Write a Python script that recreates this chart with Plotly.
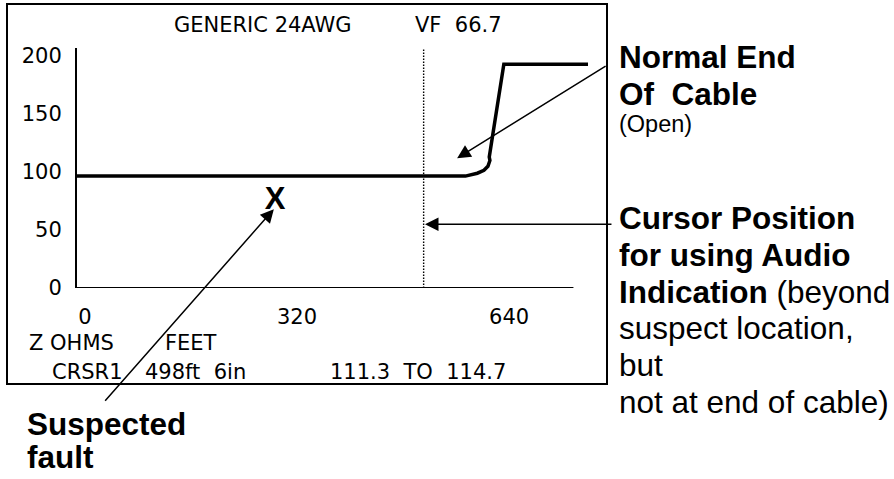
import plotly.graph_objects as go

# ---------------- data ----------------
trace_feet = [-12, 574, 592, 602, 608, 611, 610, 632, 759]
trace_ohms = [96.5, 96.5, 99, 101.5, 105, 110, 113, 193, 193]
cursor_feet = 511
fault_feet = [287]
fault_ohms = [75]
fault_mark = ["X"]
x_tick_vals = [0, 320, 640]
x_tick_text = ["0", "320", "640"]
y_tick_vals = [0, 50, 100, 150, 200]
y_tick_text = ["0", "50", "100", "150", "200"]
x_axis_end_feet = 737
x_range = [-12, 762]
y_range = [0, 207]

# ---------------- layout geometry (page pixels) ----------------
W, H = 894, 479
L, T, R, B = 77, 48, 590, 288
PW, PH = R - L, B - T


def pxx(px):
    return (px - L) / PW


def pxy(py):
    return (B - py) / PH


SCREEN_FONT = "DejaVu Sans"
NOTE_FONT = "Liberation Sans, Arial, sans-serif"
NB = "\u00a0"

fig = go.Figure()

# cursor dotted line
fig.add_trace(go.Scatter(
    x=[cursor_feet, cursor_feet], y=[y_range[0], y_range[1]],
    mode="lines", line=dict(color="black", width=1.4, dash="1.5px,1.5px"),
    hoverinfo="skip", showlegend=False))

# impedance trace
fig.add_trace(go.Scatter(
    x=trace_feet, y=trace_ohms, mode="lines",
    line=dict(color="black", width=3.5), showlegend=False))

# fault mark
fig.add_trace(go.Scatter(
    x=fault_feet, y=fault_ohms, mode="text", text=fault_mark,
    textposition="middle center",
    textfont=dict(family=NOTE_FONT, size=31, color="black", weight="bold"),
    showlegend=False))

shapes = [
    # x axis baseline
    dict(type="line", xref="x", yref="y", x0=x_range[0], x1=x_axis_end_feet,
         y0=0, y1=0, line=dict(color="black", width=2)),
    # screen frame
    dict(type="rect", xref="paper", yref="paper",
         x0=pxx(7), x1=pxx(607), y0=pxy(384), y1=pxy(4),
         line=dict(color="black", width=2)),
]

ann = []


def screen_text(txt, left, cy):
    ann.append(dict(text=txt, xref="paper", yref="paper", x=pxx(left), y=pxy(cy),
                    xanchor="left", yanchor="middle", showarrow=False,
                    font=dict(family=SCREEN_FONT, size=21, color="black")))


screen_text("GENERIC 24AWG", 172, 25)
screen_text("VF" + NB * 2 + "66.7", 413, 25)
screen_text("Z OHMS", 27, 343)
screen_text("FEET", 163, 343)
screen_text("CRSR1", 50, 372)
screen_text("498ft" + NB * 2 + "6in", 143, 372)
screen_text("111.3" + NB * 2 + "TO" + NB * 2 + "114.7", 328, 372)


def note(txt, left, cy, size=31.5):
    ann.append(dict(text=txt, xref="paper", yref="paper", x=pxx(left), y=pxy(cy),
                    xanchor="left", yanchor="middle", showarrow=False,
                    font=dict(family=NOTE_FONT, size=size, color="black")))


note("<b>Normal End</b>", 617, 57)
note("<b>Of  Cable</b>", 617, 94)
note("(Open)", 617, 124, size=23.5)
note("<b>Cursor Position</b>", 617, 218)
note("<b>for using Audio</b>", 617, 255)
note("<b>Indication</b> (beyond", 617, 292)
note("suspect location,", 617, 328)
note("but", 617, 365)
note("not at end of cable)", 617, 402)
note("<b>Suspected</b>", 25, 424)
note("<b>fault</b>", 25, 457)


def arrow(x, y, ax, ay):
    ann.append(dict(text="", x=x, y=y, xref="x", yref="y", ax=ax, ay=ay,
                    showarrow=True, arrowhead=2, arrowsize=1.8, arrowwidth=1.5,
                    arrowcolor="black", standoff=0))


arrow(285, 68, -170, 193)
arrow(561.5, 112, 150, -93)
arrow(cursor_feet + 2, 55, 188, 0)

fig.update_layout(
    width=W, height=H, autosize=False,
    margin=dict(l=L, r=W - R, t=T, b=H - B, pad=0),
    paper_bgcolor="white", plot_bgcolor="white",
    showlegend=False, shapes=shapes, annotations=ann,
    xaxis=dict(range=x_range, tickvals=x_tick_vals, ticktext=x_tick_text,
               showgrid=False, zeroline=False, showline=False, ticks="",
               ticklabelstandoff=14,
               tickfont=dict(family=SCREEN_FONT, size=21, color="black"),
               fixedrange=True),
    yaxis=dict(range=y_range, tickvals=y_tick_vals, ticktext=y_tick_text,
               showgrid=False, zeroline=False, showline=True, linecolor="black",
               linewidth=2, ticks="", ticklabelstandoff=9,
               tickfont=dict(family=SCREEN_FONT, size=21, color="black"),
               fixedrange=True),
)

fig.write_html(
    "out.html",
    config={"displayModeBar": False},
    post_script="document.body.style.margin='0px';document.body.style.overflow='hidden';",
)
